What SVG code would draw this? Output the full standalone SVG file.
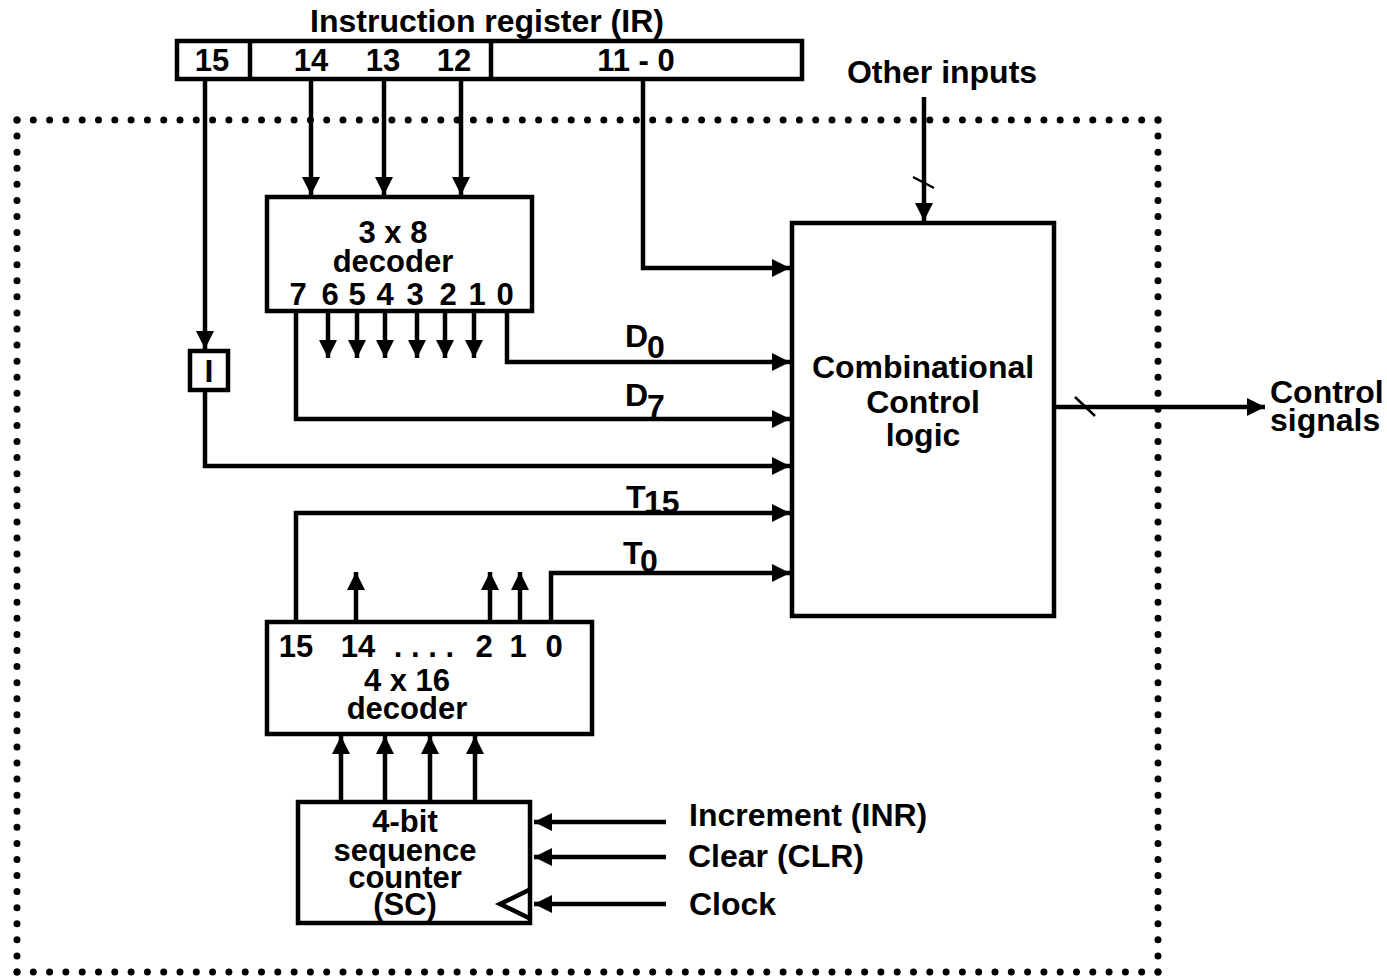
<svg xmlns="http://www.w3.org/2000/svg" width="1387" height="976" viewBox="0 0 1387 976">
<style>
text{font-family:"Liberation Sans",Arial,sans-serif;font-weight:bold;font-size:32px;fill:#000}
.s{font-size:31px}
.c{text-anchor:middle}
.box{fill:#fff;stroke:#000;stroke-width:4.5}
.w{fill:none;stroke:#000;stroke-width:4.5}
.a{fill:none;stroke:#000;stroke-width:4.5;marker-end:url(#ah)}
.thin{fill:none;stroke:#000;stroke-width:2.5}
.dot{fill:none;stroke:#000;stroke-width:7;stroke-linecap:round}
</style>
<defs>
<marker id="ah" markerUnits="userSpaceOnUse" markerWidth="20" markerHeight="20" refX="18" refY="9" orient="auto">
<path d="M0,0 L18,9 L0,18 z" fill="#000"/>
</marker>
</defs>
<rect width="1387" height="976" fill="#fff"/>

<g id="boundary">
<line class="dot" x1="17" y1="120" x2="1158" y2="120" stroke-dasharray="0 16.3"/>
<line class="dot" x1="17" y1="972" x2="1158" y2="972" stroke-dasharray="0 16.3"/>
<line class="dot" x1="17" y1="120" x2="17" y2="972" stroke-dasharray="0 16.075"/>
<line class="dot" x1="1158" y1="120" x2="1158" y2="972" stroke-dasharray="0 16.075"/>
</g>

<g id="connectors">
<line class="a" x1="311" y1="81" x2="311" y2="195"/>
<line class="a" x1="384" y1="81" x2="384" y2="195"/>
<line class="a" x1="461" y1="81" x2="461" y2="195"/>
<line class="a" x1="205" y1="81" x2="205" y2="349"/>
<polyline class="a" points="643,81 643,268 790,268"/>
<line class="a" x1="924" y1="97" x2="924" y2="221"/>
<line class="thin" x1="913" y1="177" x2="934" y2="188"/>
<line class="a" x1="328" y1="313" x2="328" y2="358"/>
<line class="a" x1="357" y1="313" x2="357" y2="358"/>
<line class="a" x1="385" y1="313" x2="385" y2="358"/>
<line class="a" x1="417" y1="313" x2="417" y2="358"/>
<line class="a" x1="445" y1="313" x2="445" y2="358"/>
<line class="a" x1="474" y1="313" x2="474" y2="358"/>
<polyline class="a" points="507,313 507,362 790,362"/>
<polyline class="a" points="296,313 296,419 790,419"/>
<polyline class="a" points="205,392 205,466 790,466"/>
<polyline class="a" points="296,620 296,513 790,513"/>
<polyline class="a" points="551,620 551,573 790,573"/>
<line class="a" x1="356" y1="620" x2="356" y2="572"/>
<line class="a" x1="490" y1="620" x2="490" y2="572"/>
<line class="a" x1="520" y1="620" x2="520" y2="572"/>
<line class="a" x1="341" y1="800" x2="341" y2="736"/>
<line class="a" x1="385" y1="800" x2="385" y2="736"/>
<line class="a" x1="430" y1="800" x2="430" y2="736"/>
<line class="a" x1="475" y1="800" x2="475" y2="736"/>
<line class="a" x1="666" y1="822" x2="534" y2="822"/>
<line class="a" x1="666" y1="857" x2="534" y2="857"/>
<line class="a" x1="666" y1="904" x2="534" y2="904"/>
<line class="a" x1="1056" y1="407" x2="1265" y2="407"/>
<line class="thin" x1="1075" y1="397" x2="1095" y2="416"/>
</g>

<g id="ir">
<rect class="box" x="177" y="41" width="625" height="38"/>
<line class="w" x1="250" y1="41" x2="250" y2="79"/>
<line class="w" x1="491" y1="41" x2="491" y2="79"/>
<text class="c" x="487" y="32">Instruction register (IR)</text>
<text class="c s" x="212" y="71">15</text>
<text class="c s" x="311" y="71">14</text>
<text class="c s" x="383" y="71">13</text>
<text class="c s" x="454" y="71">12</text>
<text class="c s" x="636" y="71">11 - 0</text>
</g>

<g id="other-inputs">
<text class="c" x="942" y="83">Other inputs</text>
</g>

<g id="decoder3x8">
<rect class="box" x="267" y="197" width="265" height="114"/>
<text class="c s" x="393" y="243">3 x 8</text>
<text class="c s" x="393" y="272">decoder</text>
<text class="c s" x="298" y="305">7</text>
<text class="c s" x="330" y="305">6</text>
<text class="c s" x="357" y="305">5</text>
<text class="c s" x="385" y="305">4</text>
<text class="c s" x="415" y="305">3</text>
<text class="c s" x="448" y="305">2</text>
<text class="c s" x="477" y="305">1</text>
<text class="c s" x="505" y="305">0</text>
</g>

<g id="ibit">
<rect class="box" x="190" y="351" width="38" height="39"/>
<text class="c" x="209" y="382">I</text>
</g>

<g id="labels">
<text x="625" y="347">D</text><text x="647" y="358">0</text>
<text x="625" y="406">D</text><text x="647" y="417">7</text>
<text x="626" y="508">T</text><text x="644" y="513">15</text>
<text x="623" y="564">T</text><text x="640" y="572">0</text>
</g>

<g id="comb">
<rect class="box" x="792" y="223" width="262" height="393"/>
<text class="c" x="923" y="378">Combinational</text>
<text class="c" x="923" y="413">Control</text>
<text class="c" x="923" y="446">logic</text>
</g>

<g id="control-signals">
<text x="1270" y="403">Control</text>
<text x="1270" y="431">signals</text>
</g>

<g id="decoder4x16">
<rect class="box" x="267" y="622" width="325" height="112"/>
<text class="c s" x="296" y="657">15</text>
<text class="c s" x="358" y="657">14</text>
<text class="c s" x="424" y="657">. . . .</text>
<text class="c s" x="484" y="657">2</text>
<text class="c s" x="518" y="657">1</text>
<text class="c s" x="554" y="657">0</text>
<text class="c s" x="407" y="691">4 x 16</text>
<text class="c s" x="407" y="719">decoder</text>
</g>

<g id="sc">
<rect class="box" x="298" y="802" width="232" height="121"/>
<polyline class="w" points="531,889 500,904 531,919"/>
<text class="c s" x="405" y="832">4-bit</text>
<text class="c s" x="405" y="861">sequence</text>
<text class="c s" x="405" y="888">counter</text>
<text class="c s" x="405" y="915">(SC)</text>
</g>

<g id="sc-inputs">
<text x="689" y="826">Increment (INR)</text>
<text x="688" y="867">Clear (CLR)</text>
<text x="689" y="915">Clock</text>
</g>
</svg>
